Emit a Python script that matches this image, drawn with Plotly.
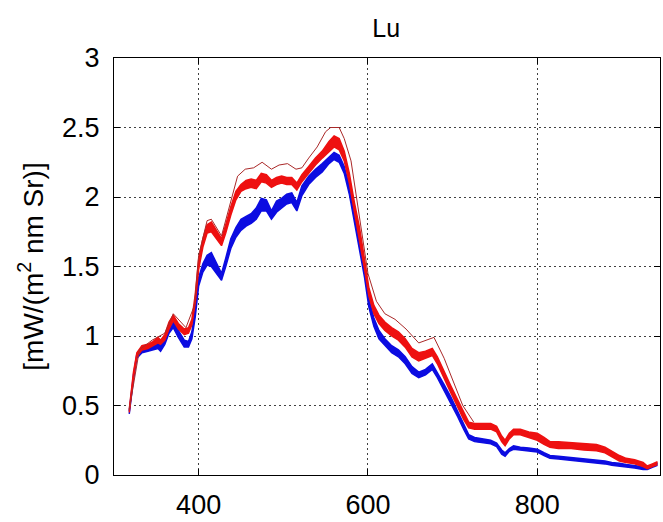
import plotly.graph_objects as go

# Wavelength grid (nm)
wl = [318, 323, 327, 333, 340, 346, 352, 355, 360, 365, 370, 376, 383, 388, 392,
      396, 400, 405, 410, 415, 421, 427, 432, 438, 444, 450, 456, 462, 468, 474,
      480, 486, 492, 498, 504, 510, 516, 522, 530, 538, 546, 554, 560, 566, 572,
      578, 584, 590, 596, 601, 607, 613, 620, 628, 636, 644, 652, 660, 668, 676,
      682, 690, 698, 706, 713, 719, 726, 735, 745, 752, 758, 762, 767, 772, 780,
      790, 800, 808, 815, 825, 840, 855, 870, 880, 888, 897, 905, 915, 925, 930,
      936, 942]

# Upper / lower envelope of the red spectra
red_hi = [0.47, 0.74, 0.88, 0.93, 0.94, 0.96, 0.99, 0.97, 1.01, 1.10, 1.15, 1.09, 1.05, 1.06, 1.12,
          1.30, 1.55, 1.70, 1.80, 1.82, 1.76, 1.70, 1.80, 1.93, 2.04, 2.09, 2.12, 2.13, 2.12, 2.17,
          2.16, 2.12, 2.14, 2.15, 2.14, 2.14, 2.10, 2.16, 2.22, 2.28, 2.33, 2.40, 2.44, 2.42, 2.33,
          2.17, 1.96, 1.78, 1.55, 1.35, 1.22, 1.15, 1.10, 1.06, 1.03, 0.98, 0.91, 0.88, 0.89, 0.91,
          0.85, 0.74, 0.64, 0.54, 0.45, 0.38, 0.37, 0.37, 0.37, 0.35, 0.28, 0.25, 0.30, 0.33, 0.33,
          0.31, 0.30, 0.27, 0.24, 0.24, 0.235, 0.23, 0.22, 0.20, 0.17, 0.14, 0.12, 0.11, 0.09, 0.065,
          0.08, 0.095]
red_lo = [0.45, 0.70, 0.85, 0.90, 0.91, 0.93, 0.95, 0.94, 0.97, 1.05, 1.11, 1.05, 1.01, 1.02, 1.08,
          1.24, 1.48, 1.64, 1.74, 1.75, 1.70, 1.65, 1.74, 1.87, 1.98, 2.04, 2.06, 2.07, 2.06, 2.11,
          2.10, 2.07, 2.09, 2.10, 2.09, 2.09, 2.05, 2.11, 2.17, 2.23, 2.28, 2.33, 2.36, 2.34, 2.26,
          2.10, 1.89, 1.71, 1.48, 1.29, 1.16, 1.09, 1.04, 1.00, 0.97, 0.92, 0.85, 0.82, 0.84, 0.86,
          0.80, 0.69, 0.59, 0.49, 0.40, 0.34, 0.33, 0.33, 0.33, 0.31, 0.24, 0.21, 0.26, 0.29, 0.29,
          0.27, 0.25, 0.22, 0.20, 0.19, 0.19, 0.18, 0.175, 0.16, 0.13, 0.10, 0.09, 0.08, 0.06, 0.045,
          0.06, 0.075]

# Upper / lower envelope of the blue spectra
blue_hi = [0.46, 0.72, 0.87, 0.91, 0.92, 0.93, 0.95, 0.93, 0.98, 1.06, 1.10, 1.04, 0.97, 0.96, 1.03,
           1.20, 1.42, 1.52, 1.58, 1.60, 1.52, 1.45, 1.56, 1.70, 1.78, 1.84, 1.86, 1.88, 1.92, 1.99,
           1.98, 1.90, 1.97, 1.99, 2.02, 2.03, 1.96, 2.08, 2.15, 2.20, 2.24, 2.29, 2.32, 2.30, 2.22,
           2.08, 1.88, 1.70, 1.48, 1.27, 1.13, 1.04, 0.98, 0.93, 0.90, 0.85, 0.78, 0.74, 0.76, 0.80,
           0.74, 0.65, 0.56, 0.46, 0.37, 0.29, 0.27, 0.26, 0.25, 0.23, 0.18, 0.16, 0.19, 0.21, 0.20,
           0.195, 0.185, 0.16, 0.14, 0.135, 0.125, 0.12, 0.11, 0.10, 0.09, 0.085, 0.075, 0.065, 0.055, 0.055,
           0.07, 0.085]
blue_lo = [0.44, 0.69, 0.84, 0.88, 0.89, 0.90, 0.91, 0.89, 0.94, 1.02, 1.06, 0.99, 0.92, 0.92, 0.98,
           1.14, 1.36, 1.46, 1.51, 1.50, 1.45, 1.40, 1.50, 1.63, 1.71, 1.76, 1.79, 1.81, 1.84, 1.90,
           1.90, 1.84, 1.89, 1.92, 1.95, 1.96, 1.90, 2.01, 2.09, 2.14, 2.18, 2.24, 2.27, 2.25, 2.17,
           2.02, 1.82, 1.64, 1.42, 1.21, 1.07, 0.98, 0.93, 0.88, 0.85, 0.80, 0.73, 0.70, 0.72, 0.76,
           0.70, 0.61, 0.52, 0.42, 0.33, 0.26, 0.24, 0.235, 0.225, 0.205, 0.15, 0.135, 0.17, 0.185, 0.18,
           0.175, 0.165, 0.14, 0.12, 0.115, 0.105, 0.10, 0.09, 0.08, 0.07, 0.065, 0.058, 0.05, 0.04, 0.04,
           0.055, 0.07]

# Single red spectrum lying above the main red group
wl_thin = [318, 330, 345, 360, 370, 385, 395, 400, 410, 415, 427, 438, 446, 455, 465,
           475, 486, 495, 505, 515, 522, 530, 540, 550, 556, 566, 572, 580, 590, 600,
           610, 620, 632, 645, 660, 672, 678, 690, 700, 712, 725]
red_thin = [0.47, 0.90, 0.97, 1.02, 1.16, 1.06, 1.22, 1.58, 1.83, 1.84, 1.72, 1.97, 2.15, 2.20, 2.21,
            2.25, 2.20, 2.23, 2.24, 2.20, 2.21, 2.28, 2.36, 2.47, 2.50, 2.50, 2.42, 2.26, 1.85, 1.45,
            1.25, 1.16, 1.12, 1.05, 0.95, 0.98, 0.99, 0.84, 0.68, 0.50, 0.38]

x_ticks = [400, 600, 800]
y_ticks = [0, 0.5, 1, 1.5, 2, 2.5, 3]
y_tick_text = ["0", "0.5", "1", "1.5", "2", "2.5", "3"]

BLUE = "rgb(12,12,225)"
RED = "rgb(238,16,16)"
FONT = "Liberation Sans, Arial, Helvetica, sans-serif"

fig = go.Figure()


def band(lo, hi, color):
    fig.add_trace(go.Scatter(x=wl, y=lo, mode="lines",
                             line=dict(color=color, width=1.5),
                             showlegend=False, hoverinfo="skip"))
    fig.add_trace(go.Scatter(x=wl, y=hi, mode="lines", fill="tonexty",
                             fillcolor=color, line=dict(color=color, width=1.5),
                             showlegend=False, hoverinfo="skip"))


band(blue_lo, blue_hi, BLUE)
band(red_lo, red_hi, RED)
fig.add_trace(go.Scatter(x=wl_thin, y=red_thin, mode="lines",
                         line=dict(color="rgb(170,40,40)", width=1),
                         showlegend=False, hoverinfo="skip"))

axis_common = dict(
    showline=True, linecolor="black", linewidth=1, mirror="ticks",
    ticks="inside", ticklen=6, tickcolor="black",
    showgrid=True, gridcolor="rgba(0,0,0,0.75)", gridwidth=1, griddash="1.5px,3.5px",
    zeroline=False,
    tickfont=dict(family=FONT, size=27, color="black"),
)

fig.update_layout(
    width=663, height=522,
    margin=dict(l=114, r=2, t=58, b=45),
    paper_bgcolor="white", plot_bgcolor="white",
    title=dict(text="Lu", x=0.5825, xanchor="center", y=0.945, yanchor="middle",
               font=dict(family=FONT, size=25, color="black")),
    xaxis=dict(range=[300, 945], tickvals=x_ticks, ticklabelstandoff=6, **axis_common),
    yaxis=dict(range=[0, 3], tickvals=y_ticks, ticktext=y_tick_text, ticklabelstandoff=8,
               title=dict(text="[mW/(m<sup>2</sup> nm Sr)]", standoff=10,
                          font=dict(family=FONT, size=28, color="black")),
               **axis_common),
)

fig.write_html("out.html")
